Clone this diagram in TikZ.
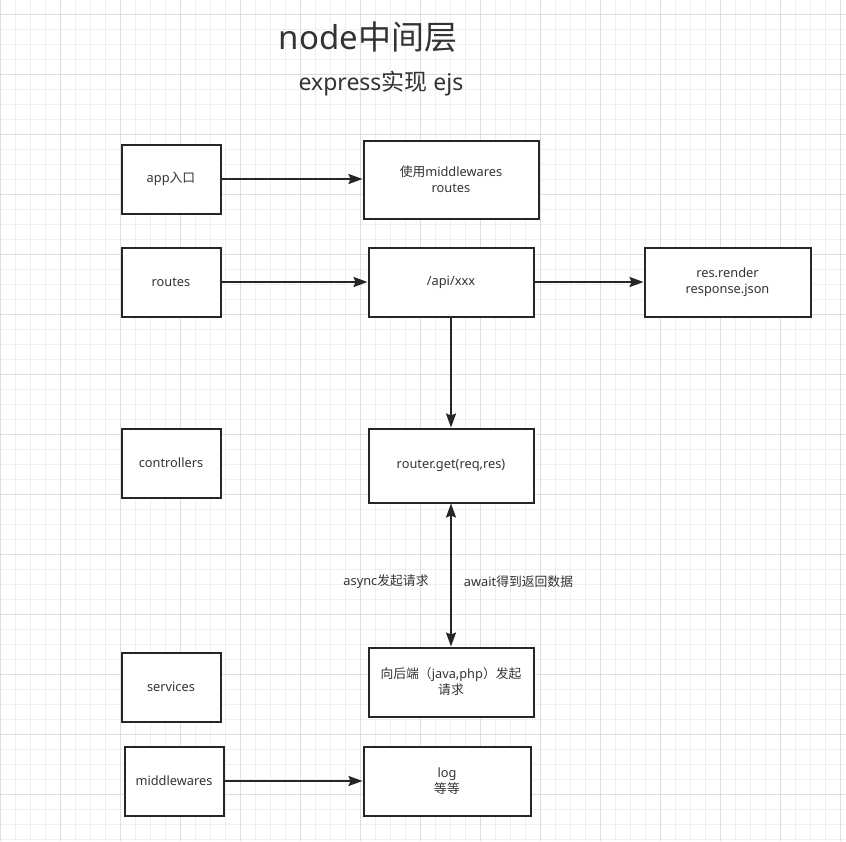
\documentclass[tikz,border=0pt]{standalone}
\usepackage{fontspec}
\setmainfont{Noto Sans}
\newfontfamily\cjk{Noto Sans CJK SC}
\usetikzlibrary{arrows.meta}
\definecolor{txt}{HTML}{333333}
\definecolor{ln}{HTML}{262626}
\definecolor{gmin}{HTML}{EFEFEF}
\definecolor{gmaj}{HTML}{DEDEDE}
\begin{document}
\begin{tikzpicture}[x=1pt,y=-1pt,
 box/.style={draw=ln, line width=2pt, fill=white, rectangle, inner sep=0pt, align=center, text=txt, font=\fontsize{12.8}{16}\selectfont},
 conn/.style={draw=ln, line width=2pt, -{Stealth[length=14pt,width=10pt,inset=2pt]}},
 conntwo/.style={draw=ln, line width=2pt, {Stealth[length=14pt,width=10pt,inset=2pt]}-{Stealth[length=14pt,width=10pt,inset=2pt]}},
 lbl/.style={text=txt, font=\fontsize{12.8}{16}\selectfont, inner sep=0pt}]
\useasboundingbox (0,0) rectangle (846,841);
\fill[white] (0,0) rectangle (846,841);
\foreach \i in {0,...,56} { \draw[gmin, line width=1pt] ({0.7+15*\i},0) -- ({0.7+15*\i},841); }
\foreach \i in {0,...,56} { \draw[gmin, line width=1pt] (0,{-0.7+15*\i}) -- (846,{-0.7+15*\i}); }
\foreach \i in {0,...,14} { \draw[gmaj, line width=1pt] ({0.7+60*\i},0) -- ({0.7+60*\i},841); }
\foreach \i in {0,...,14} { \draw[gmaj, line width=1pt] (0,{14.3+60*\i}) -- (846,{14.3+60*\i}); }

\node[text=txt, font=\fontsize{33}{36}\selectfont, inner sep=0pt] (title) at (368,37) {node{\cjk 中间层}};
\node[text=txt, font=\fontsize{23}{26}\selectfont, inner sep=0pt] (sub) at (381,84) {express{\cjk 实现} ejs};

\node[box, minimum width=99pt, minimum height=69pt] (app) at (171,179) {app{\cjk 入口}};
\node[box, minimum width=175pt, minimum height=78pt] (mw) at (451,179.5) {{\cjk 使用}middlewares\\routes};
\node[box, minimum width=99pt, minimum height=69pt] (routes) at (171,282) {routes};
\node[box, minimum width=165pt, minimum height=69pt] (api) at (451,282) {/api/xxx};
\node[box, minimum width=166pt, minimum height=69pt] (res) at (727.5,282) {res.render\\response.json};
\node[box, minimum width=99pt, minimum height=69pt] (ctrl) at (171,463) {controllers};
\node[box, minimum width=165pt, minimum height=74pt] (router) at (451,465.5) {router.get(req,res)};
\node[box, minimum width=99pt, minimum height=69pt] (svc) at (171,687) {services};
\node[box, minimum width=165pt, minimum height=69pt] (back) at (451,682) {{\cjk 向后端（}java,php{\cjk ）发起}\\{\cjk 请求}};
\node[box, minimum width=99pt, minimum height=69pt] (mwares) at (174,781) {middlewares};
\node[box, minimum width=167pt, minimum height=69pt] (log) at (447,781) {log\\{\cjk 等等}};

\node[lbl] (l1) at (386,582) {async{\cjk 发起请求}};
\node[lbl] (l2) at (518.5,582) {await{\cjk 得到返回数据}};

\draw[conn] (app.east) -- (app.east -| mw.west);
\draw[conn] (routes.east) -- (routes.east -| api.west);
\draw[conn] (api.east) -- (api.east -| res.west);
\draw[conn] (api.south) -- (router.north);
\draw[conntwo] (router.south) -- (back.north);
\draw[conn] (mwares.east) -- (mwares.east -| log.west);
\end{tikzpicture}
\end{document}
